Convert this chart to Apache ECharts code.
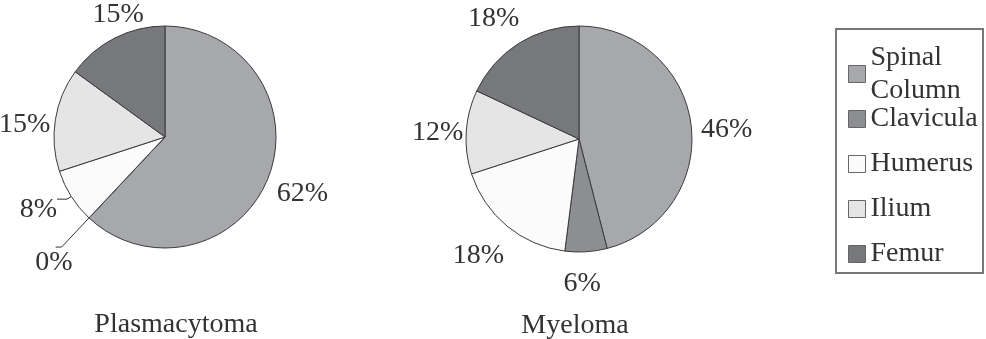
<!DOCTYPE html>
<html><head><meta charset="utf-8">
<script src="https://cdn.jsdelivr.net/npm/echarts@6/dist/echarts.min.js"></script>
<style>html,body{margin:0;padding:0;background:#fff}#c{width:986px;height:339px}</style>
</head><body><div id="c"></div>
<script>
const categories = ['Spinal\nColumn', 'Clavicula', 'Humerus', 'Ilium', 'Femur'];
const plasmacytoma = [62, 0, 8, 15, 15];
const myeloma = [46, 6, 18, 12, 18];
const chartTitles = ['Plasmacytoma', 'Myeloma'];
const colors = ['#a7a8ac', '#8d8e92', '#fbfbfb', '#e5e5e5', '#77787c'];

const font = 'Liberation Serif';
const FS = 28;
// label nudges [series][dataIndex] = [dx, dy]
const nudges = [
  [[-6,14],[22,16],[5,10],[10,6],[41,-18]],
  [[-5,6],[-32,26],[10,25],[12,1],[13,-20]]
];
const chart = echarts.init(document.getElementById('c'));
function mk(vals, center, radius, lineCfg, si) {
  return {
    type: 'pie', center: center, radius: radius, startAngle: 90, clockwise: true,
    avoidLabelOverlap: true, minShowLabelAngle: 0,
    itemStyle: { borderColor: '#3a3a3a', borderWidth: 1 },
    label: { show: true, position: 'outside', formatter: '{c}%', fontFamily: font, fontSize: FS, color: '#333', overflow: 'none', edgeDistance: 0 },
    labelLine: { show: false, length: 6, length2: 4, lineStyle: { color: '#333', width: 1 } },
    labelLayout: function (p) {
      const n = nudges[si][p.dataIndex];
      return { dx: n[0], dy: n[1] };
    },
    emphasis: { disabled: true },
    data: vals.map((v, i) => ({
      name: categories[i], value: v,
      itemStyle: { color: colors[i] },
      labelLine: lineCfg[i] ? { show: true, length: lineCfg[i][0], length2: lineCfg[i][1] } : undefined
    }))
  };
}
const legendText = { fontFamily: font, fontSize: FS, color: '#333' };
chart.setOption({
  animation: false,
  title: [
    { text: chartTitles[0], left: 171, top: 306, textAlign: 'center', textStyle: { fontFamily: font, fontSize: FS, fontWeight: 'normal', color: '#333' } },
    { text: chartTitles[1], left: 570, top: 307, textAlign: 'center', textStyle: { fontFamily: font, fontSize: FS, fontWeight: 'normal', color: '#333' } }
  ],
  graphic: [{ type: 'rect', shape: { x: 836, y: 29, width: 147, height: 244 }, style: { fill: 'none', stroke: '#777', lineWidth: 2 }, silent: true }],
  legend: [
    {
      orient: 'vertical', left: 848, top: 41, padding: 0,
      itemWidth: 17, itemHeight: 17, icon: 'rect',
      itemStyle: { borderColor: '#666', borderWidth: 1 },
      textStyle: Object.assign({ lineHeight: 33 }, legendText),
      data: categories.slice(0, 1)
    },
    {
      orient: 'vertical', left: 848, top: 104, padding: 0,
      itemWidth: 17, itemHeight: 17, itemGap: 15, icon: 'rect',
      itemStyle: { borderColor: '#666', borderWidth: 1 },
      textStyle: Object.assign({ lineHeight: 30 }, legendText),
      data: categories.slice(1)
    }
  ],
  series: [
    mk(plasmacytoma, [165, 137], 111, [null, [40, 6], [5, 10], null, null], 0),
    mk(myeloma, [579, 139], 113, [null, null, null, null, null], 1)
  ]
});
</script></body></html>
